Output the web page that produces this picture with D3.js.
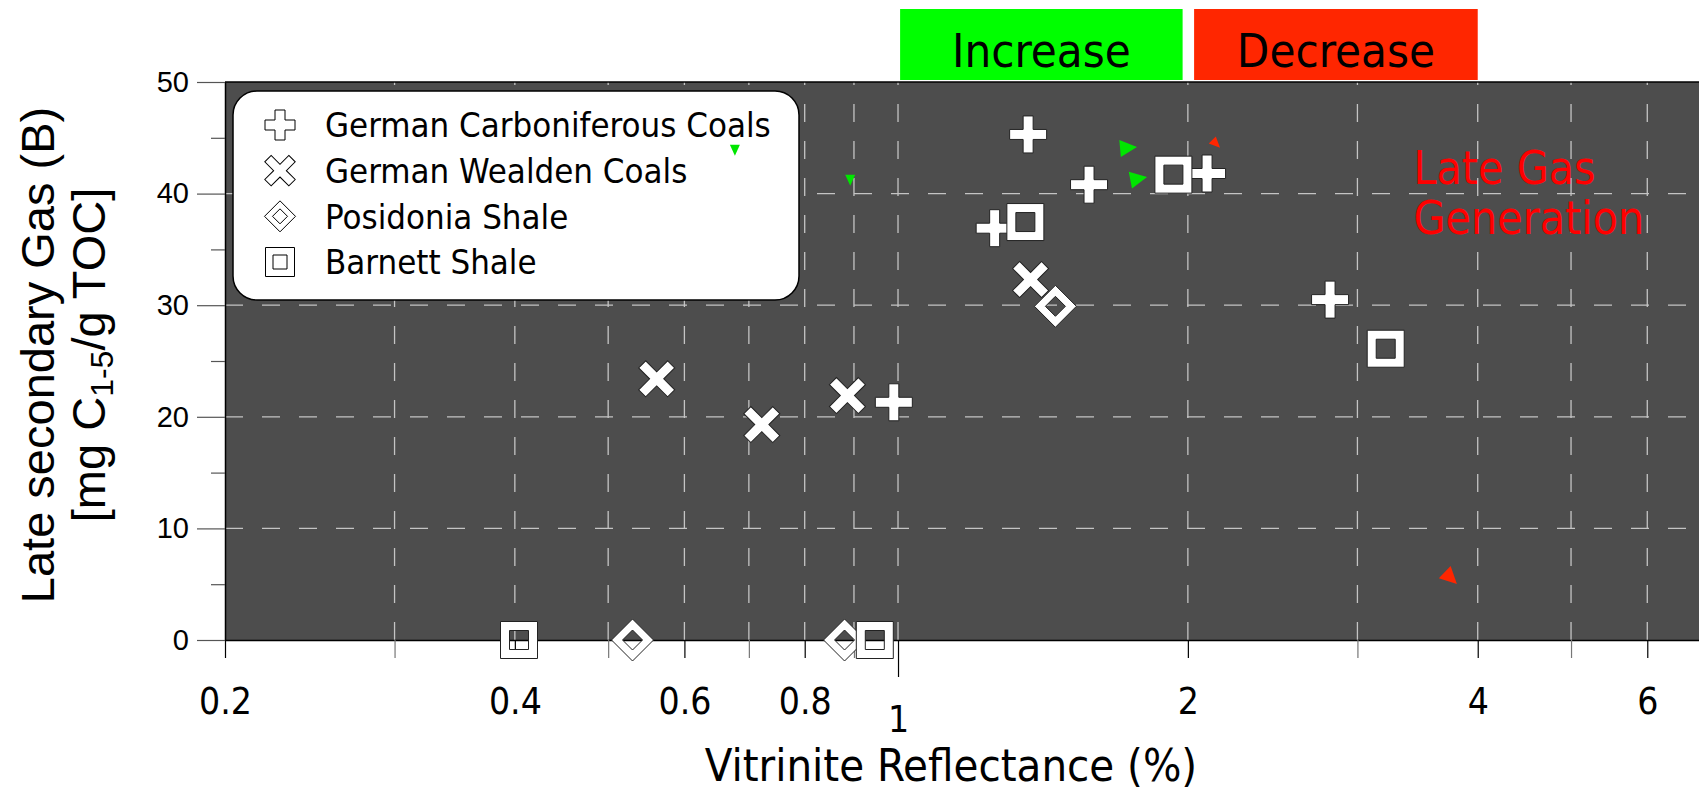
<!DOCTYPE html>
<html>
<head>
<meta charset="utf-8">
<script src="https://cdn.jsdelivr.net/npm/d3@7/dist/d3.min.js"></script>
<style>
  body { margin: 0; background: #fff; }
  svg { display: block; }
  .cond { font-family: 'DejaVu Sans Condensed', 'DejaVu Sans', sans-serif; font-stretch: condensed; }
  .arial { font-family: 'Liberation Sans', Arial, sans-serif; }
</style>
</head>
<body>
<svg id="chart" width="1699" height="793"></svg>
<script>
// series (vitrinite reflectance %, late gas mg/g TOC)
const seriesNames = ['German Carboniferous Coals', 'German Wealden Coals', 'Posidonia Shale', 'Barnett Shale']
const seriesShapes = ['plus', 'cross', 'diamond', 'square']

const carboniferousRo = [1.365, 1.579, 1.26, 2.094, 2.81, 0.99]
const carboniferousGas = [45.3, 40.8, 36.9, 41.8, 30.5, 21.3]
const wealdenRo = [0.5615, 0.722, 0.886, 1.373]
const wealdenGas = [23.4, 19.3, 21.9, 32.3]
const posidoniaRo = [1.457, 0.53, 0.88]
const posidoniaGas = [29.9, 0, 0]
const barnettRo = [1.356, 1.932, 3.21, 0.404, 0.946]
const barnettGas = [37.45, 41.7, 26.1, 0, 0]

const seriesRo = [carboniferousRo, wealdenRo, posidoniaRo, barnettRo]
const seriesGas = [carboniferousGas, wealdenGas, posidoniaGas, barnettGas]

// axes
const xTicks = [0.2, 0.3, 0.4, 0.5, 0.6, 0.7, 0.8, 0.9, 1, 2, 3, 4, 5, 6]
const xTickLabels = [0.2, 0.4, 0.6, 0.8, 1, 2, 4, 6]
const yTicks = [0, 5, 10, 15, 20, 25, 30, 35, 40, 45, 50]
const yTickLabels = [0, 10, 20, 30, 40, 50]
const yGrid = [10, 20, 30, 40]

// zones above the plot
const zoneLabels = ['Increase', 'Decrease']
const zoneFrom = [1.005, 2.03]
const zoneTo = [1.975, 4.0]
const zoneColors = ['#00ff00', '#ff2600']

// leftover arrow heads (tip position, direction in degrees)
const arrowRo = [1.771, 1.814, 3.806, 0.677, 0.892, 2.16]
const arrowGas = [44.18, 41.49, 5.02, 43.4, 40.7, 44.1]
const arrowAngle = [-5, -11, 44, 90, 90, 45]
const arrowColor = ['#00e600', '#00e600', '#ff2600', '#00e600', '#00e600', '#ff2600']
const arrowKind = ['head', 'head', 'head', 'stub', 'stub', 'stub']

const W = 1699
const H = 793
const margin = {top: 82, right: 0, bottom: 153, left: 225}
const plotW = W - margin.left - margin.right
const plotH = H - margin.top - margin.bottom

const x = d3.scaleLog().domain([0.2, 6.79]).range([0, plotW])
const y = d3.scaleLinear().domain([0, 50]).range([plotH, 0])

const svg = d3.select('#chart')
const g = svg.append('g')
  .attr('transform', `translate(${margin.left},${margin.top})`)

// marker outlines
function plusPath (a, b) {
  return `M${-b},${-a}H${b}V${-b}H${a}V${b}H${b}V${a}H${-b}V${b}H${-a}V${-b}H${-b}Z`
}
function squarePath (s, h) {
  return `M${-s},${-s}H${s}V${s}H${-s}Z M${-h},${-h}V${h}H${h}V${-h}Z`
}
function diamondPath (d, e) {
  return `M0,${-d}L${d},0L0,${d}L${-d},0Z M0,${-e}L${-e},0L0,${e}L${e},0Z`
}
function markerPath (shape, big) {
  if (shape === 'plus') return big ? plusPath(18.5, 5) : plusPath(15, 5)
  if (shape === 'cross') return big ? plusPath(20.5, 5) : plusPath(17, 4.5)
  if (shape === 'diamond') return big ? diamondPath(21, 10) : diamondPath(15.5, 7.5)
  return big ? squarePath(18.5, 9.5) : squarePath(14.5, 7)
}
function markerRotation (shape) {
  return shape === 'cross' ? ' rotate(45)' : ''
}

// plot background
g.append('rect')
  .attr('width', plotW)
  .attr('height', plotH)
  .attr('fill', '#4d4d4d')

// dashed grid
g.selectAll('.vgrid')
  .data(xTicks.filter(d => d > 0.2))
  .enter()
  .append('line')
  .attr('class', 'vgrid')
  .attr('x1', d => x(d))
  .attr('x2', d => x(d))
  .attr('y1', plotH)
  .attr('y2', 0)
  .attr('stroke', '#c4c4c4')
  .attr('stroke-width', 1.3)
  .attr('stroke-dasharray', '18,19')

g.selectAll('.hgrid')
  .data(yGrid)
  .enter()
  .append('line')
  .attr('class', 'hgrid')
  .attr('x1', 0)
  .attr('x2', plotW)
  .attr('y1', d => y(d))
  .attr('y2', d => y(d))
  .attr('stroke', '#c4c4c4')
  .attr('stroke-width', 1.3)
  .attr('stroke-dasharray', '18,19')

// top border
g.append('line')
  .attr('x1', 0)
  .attr('x2', plotW)
  .attr('y1', 0)
  .attr('y2', 0)
  .attr('stroke', '#000')
  .attr('stroke-width', 1.5)

// x axis
const xAxis = d3.axisBottom(x)
  .tickValues(xTicks)
  .tickSize(18)
  .tickSizeOuter(0)
  .tickFormat(d => xTickLabels.includes(d) ? String(d) : '')

const gx = g.append('g')
  .attr('class', 'cond')
  .attr('transform', `translate(0,${plotH})`)
  .call(xAxis)
gx.attr('font-family', null).attr('font-size', 37)
gx.select('.domain').attr('stroke', '#000').attr('stroke-width', 1.5)
gx.selectAll('.tick line')
  .attr('stroke', d => xTickLabels.includes(d) ? '#000' : '#777')
  .attr('stroke-width', 1.2)
  .attr('y2', d => d === 1 ? 37 : 18)
gx.selectAll('.tick text')
  .attr('fill', '#000')
  .attr('y', d => d === 1 ? 66 : 48)

// y axis
const yAxis = d3.axisLeft(y)
  .tickValues(yTicks)
  .tickSize(28)
  .tickSizeOuter(0)
  .tickPadding(8)
  .tickFormat(d => yTickLabels.includes(d) ? String(d) : '')

const gy = g.append('g')
  .attr('class', 'arial')
  .call(yAxis)
gy.attr('font-family', null).attr('font-size', 29)
gy.select('.domain').attr('stroke', '#000').attr('stroke-width', 1.5)
gy.selectAll('.tick line')
  .attr('stroke', '#555')
  .attr('stroke-width', 1.2)
  .attr('x2', d => yTickLabels.includes(d) ? -28 : -14)
gy.selectAll('.tick text').attr('fill', '#000')

// markers, one series after the other
seriesNames.forEach((name, i) => {
  const pts = d3.zip(seriesRo[i], seriesGas[i])
  g.selectAll('.m' + i)
    .data(pts)
    .enter()
    .append('path')
    .attr('class', 'm' + i)
    .attr('d', markerPath(seriesShapes[i], true))
    .attr('transform', d => `translate(${x(d[0])},${y(d[1])})` + markerRotation(seriesShapes[i]))
    .attr('fill', '#fff')
    .attr('fill-rule', 'evenodd')
    .attr('stroke', '#222')
    .attr('stroke-width', 1)
})

// legend
const legend = g.append('g')
  .attr('transform', 'translate(8,9)')
legend.append('rect')
  .attr('width', 566)
  .attr('height', 209)
  .attr('rx', 24)
  .attr('fill', '#fff')
  .attr('stroke', '#000')
  .attr('stroke-width', 1.5)

const rowY = d3.scalePoint().domain(seriesNames).range([34, 171])
seriesNames.forEach((name, i) => {
  legend.append('path')
    .attr('d', markerPath(seriesShapes[i], false))
    .attr('transform', `translate(47,${rowY(name)})` + markerRotation(seriesShapes[i]))
    .attr('fill', '#fff')
    .attr('fill-rule', 'evenodd')
    .attr('stroke', '#000')
    .attr('stroke-width', 1)
  legend.append('text')
    .attr('class', 'cond')
    .attr('x', 92)
    .attr('y', rowY(name))
    .attr('dy', '0.36em')
    .attr('font-size', 34.5)
    .attr('fill', '#000')
    .text(name)
})

// arrow heads
g.selectAll('.arrow')
  .data(d3.range(arrowRo.length))
  .enter()
  .append('path')
  .attr('class', 'arrow')
  .attr('d', i => arrowKind[i] === 'head' ? 'M0,0L-17,-8.5L-17,8.5Z' : 'M0,0L-11,-5L-11,5Z')
  .attr('transform', i => `translate(${x(arrowRo[i])},${y(arrowGas[i])}) rotate(${arrowAngle[i]})`)
  .attr('fill', i => arrowColor[i])

// zone boxes above the plot
zoneLabels.forEach((label, i) => {
  const x0 = x(zoneFrom[i])
  const x1 = x(zoneTo[i])
  g.append('rect')
    .attr('x', x0)
    .attr('y', -73)
    .attr('width', x1 - x0)
    .attr('height', 71)
    .attr('fill', zoneColors[i])
  g.append('text')
    .attr('class', 'cond')
    .attr('x', (x0 + x1) / 2)
    .attr('y', -15)
    .attr('text-anchor', 'middle')
    .attr('font-size', 47)
    .attr('fill', '#000')
    .text(label)
})

// late gas generation note
const note = g.append('text')
  .attr('class', 'cond')
  .attr('x', x(3.43))
  .attr('y', y(40.9))
  .attr('font-size', 46)
  .attr('fill', '#ff0000')
note.append('tspan').text('Late Gas')
note.append('tspan').attr('x', x(3.43)).attr('dy', 50).text('Generation')

// axis titles
svg.append('text')
  .attr('class', 'cond')
  .attr('x', margin.left + x(1.135))
  .attr('y', 781)
  .attr('text-anchor', 'middle')
  .attr('font-size', 45)
  .attr('fill', '#000')
  .text('Vitrinite Reflectance (%)')

const yMid = margin.top + plotH / 2 - 6
svg.append('text')
  .attr('class', 'arial')
  .attr('transform', `translate(54,${yMid}) rotate(-90)`)
  .attr('text-anchor', 'middle')
  .attr('font-size', 47)
  .attr('fill', '#000')
  .text('Late secondary Gas (B)')

const yl2 = svg.append('text')
  .attr('class', 'arial')
  .attr('transform', `translate(105,${yMid}) rotate(-90)`)
  .attr('text-anchor', 'middle')
  .attr('font-size', 47)
  .attr('fill', '#000')
yl2.append('tspan').text('[mg C')
yl2.append('tspan').attr('font-size', 32).attr('dy', 8).text('1-5')
yl2.append('tspan').attr('dy', -8).text('/g TOC]')
</script>
</body>
</html>
